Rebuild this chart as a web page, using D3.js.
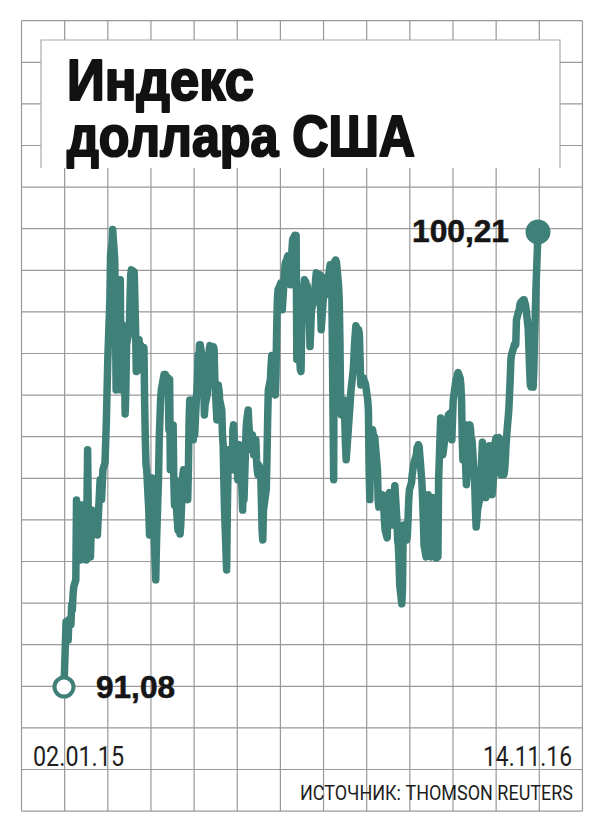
<!DOCTYPE html>
<html><head><meta charset="utf-8">
<script src="https://cdn.jsdelivr.net/npm/d3@7"></script>
<style>body{margin:0;background:#fff}svg{display:block}</style>
</head><body>
<svg id="chart" width="602" height="828"></svg>
<script>
// ---- data ----
const dates2015 = ["01-02","01-05","01-06","01-07","01-08","01-09","01-12","01-13","01-14","01-15","01-16","01-19","01-20","01-21","01-22","01-23","01-26","01-28","01-30","02-02","02-03","02-05","02-06","02-09","02-11","02-13","02-17","02-19","02-23","02-25","02-27","03-02","03-04","03-06","03-09","03-10","03-12","03-13","03-16","03-17","03-18","03-19","03-20","03-23","03-24","03-25","03-26","03-27","03-30","03-31","04-01","04-02","04-06","04-07","04-08","04-09","04-13","04-14","04-15","04-16","04-17","04-20","04-21","04-22","04-24","04-27","04-28","04-29","04-30","05-01","05-04","05-05","05-06","05-07","05-08","05-11","05-12","05-13","05-14","05-15","05-18","05-19","05-20","05-21","05-22","05-26","05-27","05-28","05-29","06-01","06-02","06-03","06-04","06-05","06-08","06-09","06-10","06-11","06-12","06-15","06-16","06-17","06-18","06-19","06-22","06-23","06-24","06-25","06-26","06-29","06-30","07-01","07-02","07-03","07-06","07-07","07-08","07-09","07-10","07-13","07-14","07-15","07-16","07-17","07-20","07-21","07-22","07-23","07-24","07-27","07-28","07-29","07-30","07-31","08-03","08-04","08-05","08-06","08-07","08-10","08-11","08-12","08-13","08-14","08-17","08-18","08-19","08-20","08-21","08-24","08-25","08-26","08-27","08-28","08-31","09-01","09-02","09-03","09-04","09-08","09-09","09-10","09-11","09-14","09-15","09-16","09-17","09-18","09-21","09-22","09-23","09-24","09-25","09-28","09-29","09-30","10-01","10-02","10-05","10-06","10-07","10-08","10-09","10-12","10-13","10-14","10-15","10-16","10-19","10-20","10-21","10-22","10-23","10-26","10-27","10-28","10-29","10-30","11-02","11-03","11-04","11-05","11-06","11-09","11-10","11-11","11-12","11-13","11-16","11-17","11-18","11-19","11-20","11-23","11-24","11-25","11-26","11-27","11-30","12-01","12-02","12-03","12-04","12-07","12-08","12-09","12-10","12-11","12-14","12-15","12-16","12-17","12-18","12-21","12-22","12-23","12-24","12-28","12-29","12-30","12-31"];
const values2015 = [91.08,92.39,92.02,92.33,92.02,92.43,92.33,92.73,92.63,92.93,93.09,93.23,94.83,94.43,94.03,94.73,93.63,94.73,94.03,94.43,93.63,95.84,94.43,93.69,94.63,94.23,94.53,94.13,95.24,94.84,95.44,95.58,96.44,97.65,98.85,99.76,99.96,100.26,99.66,98.65,97.04,98.25,97.65,98.85,99.25,97.04,98.05,98.35,97.65,96.56,97.04,97.95,98.25,98.85,99.35,99.45,99.41,98.85,98.25,97.41,97.85,98.05,97.45,97.95,97.85,97.89,96.84,96.04,95.54,95.44,94.63,94.13,94.84,94.43,95.28,95.24,94.03,93.63,93.23,93.93,95.28,96.04,96.44,96.84,97.04,97.35,97.25,97.35,97.25,97.28,96.24,97.25,95.44,96.04,96.34,95.24,94.73,95.24,94.84,94.23,94.73,94.43,94.15,94.33,95.34,95.44,95.04,95.24,95.44,94.84,95.44,96.44,96.84,96.64,96.84,96.04,96.44,96.14,96.44,97.25,97.75,97.55,97.95,97.95,97.65,97.04,97.25,96.54,96.74,96.94,97.14,97.65,97.85,97.93,97.85,97.65,97.91,97.85,97.25,96.44,96.84,97.14,97.04,96.84,96.64,96.14,95.94,95.24,94.63,93.43,94.63,95.44,95.84,95.64,95.84,95.44,96.24,96.34,96.04,95.64,95.24,95.84,95.94,95.44,95.04,94.63,95.24,94.84,96.24,96.44,96.54,96.64,96.34,95.84,96.04,96.14,96.04,95.74,96.04,95.64,95.44,95.34,95.54,95.44,94.84,94.23,94.03,94.63,94.94,95.04,95.64,96.44,97.04,97.25,97.55,97.73,97.25,97.45,96.94,97.35,98.25,98.85,99.05,99.15,99.19,98.85,98.65,98.85,99.55,99.61,99.45,99.69,99.73,99.45,99.15,99.55,99.86,100.06,100.14,100.06,100.14,97.65,98.05,97.75,97.45,97.41,98.25,98.85,99.25,99.15,99.21,99.05,99.13,98.45,97.91,98.25,98.65,98.85,99.05,99.25,99.39];
const dates2016 = ["01-04","01-05","01-06","01-07","01-08","01-11","01-12","01-13","01-14","01-15","01-19","01-20","01-21","01-22","01-25","01-26","01-27","01-28","01-29","02-01","02-02","02-03","02-04","02-05","02-08","02-09","02-10","02-11","02-12","02-16","02-17","02-18","02-19","02-22","02-23","02-24","02-25","02-26","02-29","03-01","03-02","03-03","03-04","03-07","03-08","03-09","03-10","03-11","03-14","03-15","03-16","03-17","03-18","03-21","03-22","03-23","03-24","03-25","03-28","03-29","03-30","03-31","04-01","04-04","04-05","04-06","04-07","04-08","04-11","04-12","04-13","04-14","04-15","04-18","04-19","04-20","04-21","04-22","04-25","04-26","04-27","04-28","04-29","05-02","05-03","05-04","05-05","05-06","05-09","05-10","05-11","05-12","05-13","05-16","05-17","05-18","05-19","05-20","05-23","05-24","05-25","05-26","05-27","05-31","06-01","06-02","06-03","06-06","06-07","06-08","06-09","06-10","06-13","06-14","06-15","06-16","06-17","06-20","06-21","06-22","06-23","06-24","06-27","06-28","06-29","06-30","07-01","07-05","07-06","07-07","07-08","07-11","07-12","07-13","07-14","07-15","07-18","07-19","07-20","07-21","07-22","07-25","07-26","07-27","07-28","07-29","08-01","08-02","08-03","08-04","08-05","08-08","08-09","08-10","08-11","08-12","08-15","08-16","08-17","08-18","08-19","08-22","08-23","08-24","08-25","08-26","08-29","08-30","08-31","09-01","09-02","09-05","09-06","09-07","09-08","09-09","09-12","09-13","09-14","09-15","09-16","09-19","09-20","09-21","09-22","09-23","09-26","09-27","09-28","09-29","09-30","10-03","10-04","10-05","10-06","10-07","10-10","10-11","10-12","10-13","10-14","10-17","10-18","10-19","10-20","10-21","10-24","10-25","10-26","10-27","10-28","10-31","11-01","11-02","11-03","11-04","11-07","11-08","11-09","11-10","11-11","11-14"];
const values2016 = [99.05,99.35,98.85,98.25,98.45,99.05,99.29,99.15,98.95,99.05,99.45,99.55,99.35,99.55,95.24,99.61,99.55,99.65,99.61,99.15,98.85,98.05,96.84,96.54,96.74,96.84,96.44,95.94,95.64,96.44,96.64,96.84,97.04,97.41,97.65,97.95,98.15,98.33,98.19,98.25,98.15,97.65,97.14,97.25,97.28,97.14,97.20,97.14,96.84,96.64,95.44,94.84,95.84,96.24,96.14,96.04,96.10,95.94,95.44,94.84,94.69,94.73,94.84,94.94,94.90,94.73,94.43,94.23,94.07,94.63,94.94,94.98,94.84,94.53,94.33,94.63,94.84,95.12,94.43,94.03,93.93,93.63,93.13,92.75,93.03,94.23,94.33,94.23,94.03,94.13,94.43,94.84,95.04,95.18,95.34,95.44,95.54,95.60,95.74,95.88,95.84,95.94,95.90,95.18,94.84,94.43,93.93,93.69,94.03,94.43,94.94,94.63,93.69,94.23,94.63,94.88,94.43,93.93,93.67,93.73,93.69,95.24,96.48,96.24,95.94,95.74,95.84,96.34,96.44,96.34,96.54,96.58,96.14,96.04,96.44,96.84,97.14,97.25,97.28,97.35,97.39,97.28,97.14,96.84,96.04,95.64,96.34,95.44,95.14,95.54,96.04,96.34,96.24,95.94,96.04,95.84,95.14,94.63,94.29,94.43,94.63,94.84,95.04,95.34,95.64,95.99,95.44,95.04,94.88,95.14,95.54,95.92,95.64,95.24,95.04,94.94,95.44,95.94,96.04,96.08,96.04,96.08,95.84,95.44,95.34,95.44,95.34,95.44,95.64,95.94,96.14,96.64,96.94,97.25,97.65,97.75,97.89,97.95,97.93,97.95,98.45,98.61,98.65,98.75,98.79,98.81,98.85,98.85,98.79,98.75,98.65,98.25,97.85,97.45,97.14,97.10,97.10,97.45,98.05,98.51,99.05,100.21];
const xLabels = ["02.01.15", "14.11.16"];
const titleLines = ["Индекс", "доллара США"];
const sourceText = "ИСТОЧНИК: THOMSON REUTERS";
const startLabel = "91,08";
const endLabel = "100,21";

// ---- build series ----
const parse = d3.timeParse("%Y-%m-%d");
const series = dates2015.map((d, i) => ({date: parse("2015-" + d), value: values2015[i]}))
  .concat(dates2016.map((d, i) => ({date: parse("2016-" + d), value: values2016[i]})));

const svg = d3.select("#chart");
const W = 602, H = 828;
svg.append("rect").attr("width", W).attr("height", H).attr("fill", "#ffffff");

// ---- background grid ----
const gx0 = 21.5, cellW = 43.15, nCols = 13;
const gy0 = 20.7, cellH = 41.6, nRows = 19;
const gridColor = "#999999";
const grid = svg.append("g").attr("stroke", gridColor).attr("stroke-width", 1.2);
grid.selectAll("line.v").data(d3.range(nCols + 1)).join("line")
  .attr("x1", i => gx0 + i * cellW).attr("x2", i => gx0 + i * cellW)
  .attr("y1", gy0).attr("y2", gy0 + nRows * cellH);
grid.selectAll("line.h").data(d3.range(nRows + 1)).join("line")
  .attr("y1", j => gy0 + j * cellH).attr("y2", j => gy0 + j * cellH)
  .attr("x1", gx0).attr("x2", gx0 + nCols * cellW);

// ---- title box ----
const box = {x: 41, y: 40, w: 519, h: 128};
svg.append("rect").attr("x", box.x).attr("y", box.y).attr("width", box.w).attr("height", box.h).attr("fill", "#ffffff");
svg.append("path")
  .attr("d", `M${box.x},${box.y + box.h}V${box.y}H${box.x + box.w}V${box.y + box.h}`)
  .attr("fill", "none").attr("stroke", "#a8a8a8").attr("stroke-width", 1.2);

const titleLens = [187, 348];
const titleBase = [99.5, 155.5];
svg.selectAll("text.title").data(titleLines).join("text")
  .attr("class", "title")
  .attr("x", 67).attr("y", (d, i) => titleBase[i])
  .attr("textLength", (d, i) => titleLens[i]).attr("lengthAdjust", "spacingAndGlyphs")
  .attr("font-family", "'Liberation Sans', Arial, sans-serif")
  .attr("font-weight", 700).attr("font-size", 57)
  .attr("fill", "#121212").attr("stroke", "#121212").attr("stroke-width", 2.2)
  .attr("stroke-linejoin", "round")
  .text(d => d);

// ---- scales ----
const x = d3.scaleTime()
  .domain(d3.extent(series, d => d.date))
  .range([64, 538]);
const y = d3.scaleLinear()
  .domain([series[0].value, series[series.length - 1].value])
  .range([687, 232]);

const teal = "#3f8078";
const line = d3.line().x(d => x(d.date)).y(d => y(d.value));
svg.append("path").datum(series)
  .attr("d", line).attr("fill", "none")
  .attr("stroke", teal).attr("stroke-width", 7.5)
  .attr("stroke-linejoin", "round").attr("stroke-linecap", "round");

// end markers
const first = series[0], last = series[series.length - 1];
svg.append("circle").attr("cx", x(first.date)).attr("cy", y(first.value))
  .attr("r", 9.5).attr("fill", "#ffffff").attr("stroke", teal).attr("stroke-width", 4);
svg.append("circle").attr("cx", x(last.date)).attr("cy", y(last.value))
  .attr("r", 12.5).attr("fill", teal);

// value labels
const labelFont = "'Liberation Sans', Arial, sans-serif";
svg.append("text").attr("x", x(last.date) - 29).attr("y", y(last.value) + 10)
  .attr("text-anchor", "end").attr("font-family", labelFont).attr("font-weight", 700)
  .attr("font-size", 32).attr("fill", "#161616").attr("stroke", "#161616").attr("stroke-width", 0.6)
  .attr("textLength", 97).attr("lengthAdjust", "spacingAndGlyphs")
  .text(endLabel);
svg.append("text").attr("x", x(first.date) + 32).attr("y", y(first.value) + 11)
  .attr("font-family", labelFont).attr("font-weight", 700)
  .attr("font-size", 32).attr("fill", "#161616").attr("stroke", "#161616").attr("stroke-width", 0.6)
  .attr("textLength", 79).attr("lengthAdjust", "spacingAndGlyphs")
  .text(startLabel);

// date labels
const dateFont = "Roboto, 'Liberation Sans', sans-serif";
svg.append("text").attr("x", 33).attr("y", 766)
  .attr("font-family", dateFont).attr("font-size", 27).attr("fill", "#1e1e1e")
  .attr("textLength", 91).attr("lengthAdjust", "spacingAndGlyphs")
  .text(xLabels[0]);
svg.append("text").attr("x", 572).attr("y", 766).attr("text-anchor", "end")
  .attr("font-family", dateFont).attr("font-size", 27).attr("fill", "#1e1e1e")
  .attr("textLength", 89).attr("lengthAdjust", "spacingAndGlyphs")
  .text(xLabels[1]);

// source
svg.append("text").attr("x", 300).attr("y", 800)
  .attr("font-family", dateFont).attr("font-size", 21).attr("fill", "#1e1e1e")
  .attr("textLength", 273).attr("lengthAdjust", "spacingAndGlyphs")
  .text(sourceText);
</script>
</body></html>
